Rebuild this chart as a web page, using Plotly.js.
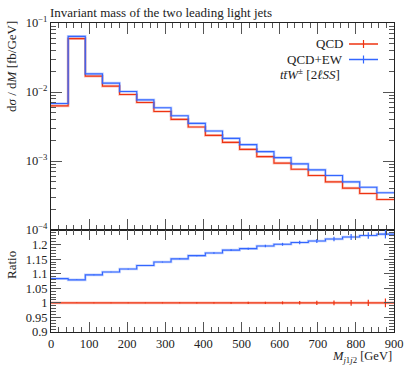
<!DOCTYPE html>
<html>
<head>
<meta charset="utf-8">
<script src="https://cdn.plot.ly/plotly-3.0.1.min.js"></script>
<style>html,body{margin:0;padding:0;background:#fff;}#chart{width:407px;height:367px;}</style>
</head>
<body>
<div id="chart"></div>
<script>
// ---- data ----
const binEdges = [0,45,90,135,180,225,270,315,360,405,450,495,540,585,630,675,720,765,810,855,900];
const qcd   = [0.0063,0.0593,0.0170,0.01216,0.0092,0.00705,0.00522,0.00401,0.00311,0.00235,
               0.00186,0.001476,0.001159,0.000933,0.000758,0.000615,0.000499,0.000404,0.000338,0.000277];
const qcdEW = [0.00682,0.0639,0.0183,0.01345,0.01016,0.0077,0.00591,0.00453,0.00351,0.00272,
               0.00213,0.001726,0.001368,0.00112,0.000908,0.000743,0.000615,0.000499,0.000417,0.000346];
const ratioQCD = [1,1,1,1,1,1,1,1,1,1,1,1,1,1,1,1,1,1,1,1];
const ratioEW  = [1.083,1.079,1.096,1.106,1.116,1.128,1.140,1.151,1.162,1.171,
                  1.181,1.186,1.195,1.201,1.207,1.212,1.219,1.226,1.231,1.236];
const errQCD = [0.001,0.0008,0.001,0.001,0.0012,0.0013,0.0015,0.0017,0.002,0.0025,
                0.003,0.0035,0.004,0.005,0.006,0.007,0.008,0.010,0.011,0.015];
const errEW  = [0.001,0.0008,0.001,0.001,0.0012,0.0013,0.0015,0.0017,0.002,0.0025,
                0.003,0.0035,0.004,0.005,0.006,0.007,0.008,0.010,0.011,0.015];
const yTickVals = [1e-4,1e-3,1e-2,1e-1];
const yTickText = ['10<sup>−4</sup>','10<sup>−3</sup>','10<sup>−2</sup>','10<sup>−1</sup>'];
const rTickVals = [0.9,0.95,1,1.05,1.1,1.15,1.2];
const rTickText = ['0.9','0.95','1','1.05','1.1','1.15','1.2'];

const RED = '#ee3311', BLUE = '#3366ff';
const FONT = 'Liberation Serif, DejaVu Serif, serif';

function stepY(a){ return a.concat([a[a.length-1]]); }
const centers = binEdges.slice(0,-1).map((e,i)=>(e+binEdges[i+1])/2);

function stepTraces(vals, color, xa, ya){
  return [
    {x: binEdges, y: stepY(vals), mode:'lines', line:{shape:'hv', color:color, width:2.6}, opacity:0.3,
     xaxis:xa, yaxis:ya, hoverinfo:'skip', showlegend:false},
    {x: binEdges, y: stepY(vals), mode:'lines', line:{shape:'hv', color:color, width:1.1},
     xaxis:xa, yaxis:ya, showlegend:false}
  ];
}
function errTrace(vals, err, color){
  return {x: centers, y: vals, mode:'markers', marker:{size:1, opacity:0},
    error_y:{type:'data', array:err, visible:true, color:color, thickness:1.2, width:0},
    xaxis:'x2', yaxis:'y2', showlegend:false, hoverinfo:'skip'};
}

const traces = [].concat(
  stepTraces(qcd, RED, 'x', 'y'),
  stepTraces(qcdEW, BLUE, 'x', 'y'),
  stepTraces(ratioQCD, RED, 'x2', 'y2'),
  stepTraces(ratioEW, BLUE, 'x2', 'y2'),
  [errTrace(ratioQCD, errQCD, RED), errTrace(ratioEW, errEW, BLUE)]
);

const minorLog = [];
for (let d=-4; d<-1; d++) for (let k=2; k<10; k++) minorLog.push(k*Math.pow(10,d));

const axCommon = {showline:true, linecolor:'#222', linewidth:1, mirror:'allticks', ticks:'inside',
  tickcolor:'#555', tickwidth:1, showgrid:false, zeroline:false,
  tickfont:{family:FONT, size:12.5, color:'#222'}};

const lowerFrac = 102/309;

const layout = {
  width:407, height:367,
  margin:{l:51, r:13, t:23, b:35},
  paper_bgcolor:'#fff', plot_bgcolor:'#fff',
  showlegend:false,
  font:{family:FONT, color:'#222'},
  title:{text:'Invariant mass of the two leading light jets', x:50/407, xanchor:'left', y:1-12/367, yanchor:'middle',
         font:{family:FONT, size:13, color:'#222'}},
  xaxis: Object.assign({}, axCommon, {domain:[0,1], anchor:'y', range:[0,900], dtick:100, ticklen:11,
         showticklabels:false, minor:{dtick:20, ticks:'inside', ticklen:5, tickcolor:'#555'}}),
  xaxis2: Object.assign({}, axCommon, {domain:[0,1], anchor:'y2', range:[0,900], dtick:100, ticklen:10,
         minor:{dtick:20, ticks:'inside', ticklen:5, tickcolor:'#555'}}),
  yaxis: Object.assign({}, axCommon, {domain:[lowerFrac,1], anchor:'x', type:'log', range:[-4,-1],
         tickmode:'array', tickvals:yTickVals, ticktext:yTickText, ticklen:11,
         minor:{tickmode:'array', tickvals:minorLog, ticks:'inside', ticklen:5, tickcolor:'#555'}}),
  yaxis2: Object.assign({}, axCommon, {domain:[0,lowerFrac], anchor:'x2', range:[0.9,1.25],
         tickmode:'array', tickvals:rTickVals, ticktext:rTickText, ticklen:10,
         minor:{dtick:0.01, ticks:'inside', ticklen:5, tickcolor:'#555'}}),
  annotations:[
    {text:'d<i>σ</i> / d<i>M</i> [fb/GeV]', xref:'paper', yref:'paper', x:-40/343, y:(332-67)/309,
     xanchor:'center', yanchor:'middle', textangle:-90, showarrow:false, font:{family:FONT, size:13, color:'#222'}},
    {text:'Ratio', xref:'paper', yref:'paper', x:-40/343, y:(332-265)/309,
     xanchor:'center', yanchor:'middle', textangle:-90, showarrow:false, font:{family:FONT, size:13, color:'#222'}},
    {text:'<i>M</i><sub><i>j</i>1<i>j</i>2</sub> [GeV]', xref:'paper', yref:'paper', x:1, y:-(347-332)/309,
     xanchor:'right', yanchor:'top', showarrow:false, font:{family:FONT, size:12.5, color:'#222'}},
    {text:'QCD', xref:'paper', yref:'paper', x:(345-51)/343, y:(332-44)/309,
     xanchor:'right', yanchor:'middle', showarrow:false, font:{family:FONT, size:13, color:'#222'}},
    {text:'QCD+EW', xref:'paper', yref:'paper', x:(345-51)/343, y:(332-59.5)/309,
     xanchor:'right', yanchor:'middle', showarrow:false, font:{family:FONT, size:13, color:'#222'}},
    {text:'<i>tt̄W</i><sup>±</sup> [2<i>ℓSS</i>]', xref:'paper', yref:'paper', x:(342-51)/343, y:(332-74)/309,
     xanchor:'right', yanchor:'middle', showarrow:false, font:{family:FONT, size:13, color:'#222'}}
  ],
  shapes:[
    {type:'line', xref:'paper', yref:'paper', x0:(349-51)/343, x1:(378-51)/343, y0:(332-44)/309, y1:(332-44)/309,
     line:{color:RED, width:1.5}},
    {type:'line', xref:'paper', yref:'paper', x0:(363.5-51)/343, x1:(363.5-51)/343, y0:(332-40)/309, y1:(332-48)/309,
     line:{color:RED, width:1.2}},
    {type:'line', xref:'paper', yref:'paper', x0:(349-51)/343, x1:(378-51)/343, y0:(332-59.5)/309, y1:(332-59.5)/309,
     line:{color:BLUE, width:1.5}},
    {type:'line', xref:'paper', yref:'paper', x0:(363.5-51)/343, x1:(363.5-51)/343, y0:(332-55.5)/309, y1:(332-63.5)/309,
     line:{color:BLUE, width:1.2}}
  ]
};

Plotly.newPlot('chart', traces, layout, {staticPlot:true, displayModeBar:false});
</script>
</body>
</html>
